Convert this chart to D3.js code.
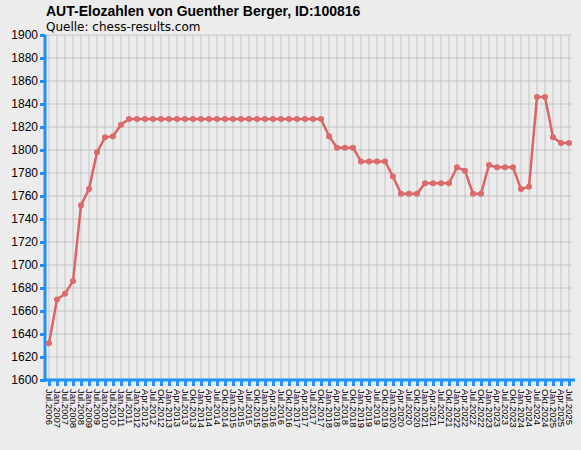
<!DOCTYPE html>
<html><head><meta charset="utf-8">
<script src="https://cdn.jsdelivr.net/npm/d3@7.9.0/dist/d3.min.js"></script>
<style>body{margin:0;background:#ececec;}svg{display:block;font-family:"DejaVu Sans",sans-serif;}</style>
</head><body><div id="chart"></div>
<script>
const months = ['Jul.2006','Jan.2007','Jul.2007','Jan.2008','Jul.2008','Jan.2009','Jul.2009','Jan.2010','Jul.2010','Jan.2011','Jul.2011','Jan.2012'];
const quarterNames = ['Jan.','Apr.','Jul.','Okt.'];
// quarterly labels Apr.2012 .. Jul.2025
for (let y = 2012; y <= 2025; y++) {
  quarterNames.forEach((q, i) => {
    if ((y === 2012 && i === 0) || (y === 2025 && i === 3)) return;
    months.push(q + y);
  });
}
const elo = [1632,1670,1675,1686,1752,1766,1798,1811,1812,1822,
  1827,1827,1827,1827,1827,1827,1827,1827,1827,1827,1827,1827,1827,1827,1827,1827,1827,1827,1827,1827,1827,1827,1827,1827,1827,
  1812,1802,1802,1802,1790,1790,1790,1790,1777,1762,1762,1762,1771,1771,1771,1771,1785,1782,1762,1762,1787,1785,1785,1785,1766,1768,1846,1846,1811,1806,1806];
const yTicks = d3.range(1600, 1901, 20);

const width = 581, height = 450;
const area = { left: 45, right: 572, top: 35, bottom: 380 };
const svg = d3.select('#chart').append('svg').attr('width', width).attr('height', height);

const x = d3.scalePoint().domain(months).range([49, 569]);
const y = d3.scaleLinear().domain([1600, 1900]).range([area.bottom, area.top]);

// gridlines
svg.append('g').selectAll('line').data(months).join('line')
  .attr('x1', d => x(d)).attr('x2', d => x(d)).attr('y1', area.top).attr('y2', area.bottom)
  .attr('stroke', '#c4c4c4');
svg.append('g').selectAll('line').data(yTicks).join('line')
  .attr('x1', area.left).attr('x2', area.right).attr('y1', d => y(d)).attr('y2', d => y(d))
  .attr('stroke', '#c4c4c4');

// axes
const yAxis = svg.append('g').attr('transform', `translate(${area.left},0)`)
  .call(d3.axisLeft(y).tickValues(yTicks).tickFormat(d3.format('d')).tickSize(5).tickPadding(2).tickSizeOuter(0));
const xAxis = svg.append('g').attr('transform', `translate(0,${area.bottom})`)
  .call(d3.axisBottom(x).tickSize(6).tickSizeOuter(0));
[yAxis, xAxis].forEach(a => {
  a.selectAll('line').attr('stroke', '#1e90ff').attr('stroke-width', 3);
  a.select('.domain').remove();
  a.selectAll('text').attr('fill', '#000').attr('font-size', 12);
});
xAxis.selectAll('text').attr('font-size', 9.5)
  .attr('transform', 'rotate(90)').attr('text-anchor', 'start')
  .attr('x', 9).attr('y', 0).attr('dy', '0.35em');
svg.append('line').attr('x1', area.left).attr('x2', area.left).attr('y1', area.top).attr('y2', area.bottom + 1.5)
  .attr('stroke', '#1e90ff').attr('stroke-width', 3);
svg.append('line').attr('x1', area.left).attr('x2', area.right + 3).attr('y1', area.bottom).attr('y2', area.bottom)
  .attr('stroke', '#1e90ff').attr('stroke-width', 3);

// line + points
svg.append('path').datum(elo)
  .attr('fill', 'none').attr('stroke', '#dc6464').attr('stroke-width', 2.5)
  .attr('d', d3.line().x((d, i) => x(months[i])).y(d => y(d)));
svg.append('g').selectAll('circle').data(elo).join('circle')
  .attr('cx', (d, i) => x(months[i])).attr('cy', d => y(d)).attr('r', 3)
  .attr('fill', '#dc6a6a');

svg.append('text').attr('x', 46).attr('y', 16).attr('font-size', 14).attr('font-weight', 'bold')
  .attr('font-family', 'Liberation Sans, Arial, sans-serif')
  .text('AUT-Elozahlen von Guenther Berger, ID:100816');
svg.append('text').attr('x', 46).attr('y', 31).attr('font-size', 12)
  .text('Quelle: chess-results.com');
</script></body></html>
